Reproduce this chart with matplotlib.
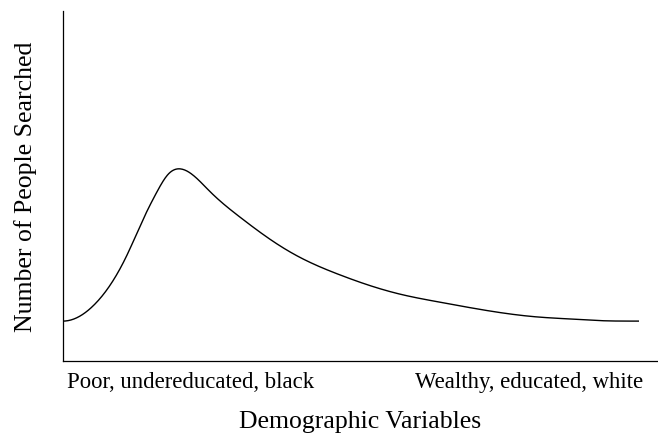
import matplotlib
matplotlib.use('Agg')
import matplotlib.pyplot as plt
import numpy as np

# points (x: share of axis width, y: share of axis height)
curve_x = [0, 5.09, 10.71, 13.50, 15.75, 17.70, 19.66, 24.71, 29.75,
           33.11, 36.47, 39.83, 43.19, 46.55, 49.92, 56.64, 63.36, 74.0,
           79.61, 85.21, 90.81, 96.69]
curve_y = [11.4, 15.8, 30.1, 40.6, 48.2, 53.4, 54.9, 48.4, 41.1,
           36.8, 32.9, 29.6, 26.9, 24.6, 22.5, 19.1, 16.8, 13.7,
           12.6, 12.0, 11.5, 11.4]
tick_pos = [0.7, 97.5]
tick_labels = ['Poor, undereducated, black', 'Wealthy, educated, white']


def clamped_spline(xs, ys, n=800):
    # cubic spline with flat ends, only used to draw a smooth line
    x = np.asarray(xs, float)
    y = np.asarray(ys, float)
    k = len(x)
    h = np.diff(x)
    A = np.zeros((k, k))
    b = np.zeros(k)
    A[0, 0], A[0, 1] = 2 * h[0], h[0]
    b[0] = 6 * ((y[1] - y[0]) / h[0])
    A[-1, -2], A[-1, -1] = h[-1], 2 * h[-1]
    b[-1] = 6 * (0 - (y[-1] - y[-2]) / h[-1])
    for i in range(1, k - 1):
        A[i, i - 1] = h[i - 1]
        A[i, i] = 2 * (h[i - 1] + h[i])
        A[i, i + 1] = h[i]
        b[i] = 6 * ((y[i + 1] - y[i]) / h[i] - (y[i] - y[i - 1]) / h[i - 1])
    M = np.linalg.solve(A, b)
    xx = np.linspace(x[0], x[-1], n)
    j = np.clip(np.searchsorted(x, xx) - 1, 0, k - 2)
    a = x[j + 1] - xx
    c = xx - x[j]
    hj = h[j]
    yy = (M[j] * a ** 3 / (6 * hj) + M[j + 1] * c ** 3 / (6 * hj)
          + (y[j] / hj - M[j] * hj / 6) * a + (y[j + 1] / hj - M[j + 1] * hj / 6) * c)
    return xx, yy


plt.rcParams['font.family'] = ['Liberation Serif', 'DejaVu Serif']

fig = plt.figure(figsize=(6.58, 4.35), dpi=100)
ax = fig.add_axes([63 / 658, 73 / 435, 595 / 658, 350 / 435])

sx, sy = clamped_spline(curve_x, curve_y)
ax.plot(sx, sy, color='black', linewidth=1.0)

ax.set_xlim(0, 100)
ax.set_ylim(0, 100)
ax.spines['top'].set_visible(False)
ax.spines['right'].set_visible(False)
ax.spines['left'].set_linewidth(0.9)
ax.spines['bottom'].set_linewidth(0.9)

ax.set_yticks([])
ax.set_xticks(tick_pos)
ax.set_xticklabels(tick_labels, fontsize=16.4)
ax.tick_params(axis='x', length=0, pad=7)
labels = ax.get_xticklabels()
labels[0].set_horizontalalignment('left')
labels[1].set_horizontalalignment('right')

ax.set_xlabel('Demographic Variables', fontsize=18.5, labelpad=13)
ax.set_ylabel('Number of People Searched', fontsize=18.5, labelpad=19)

plt.savefig('out.png', dpi=100)
